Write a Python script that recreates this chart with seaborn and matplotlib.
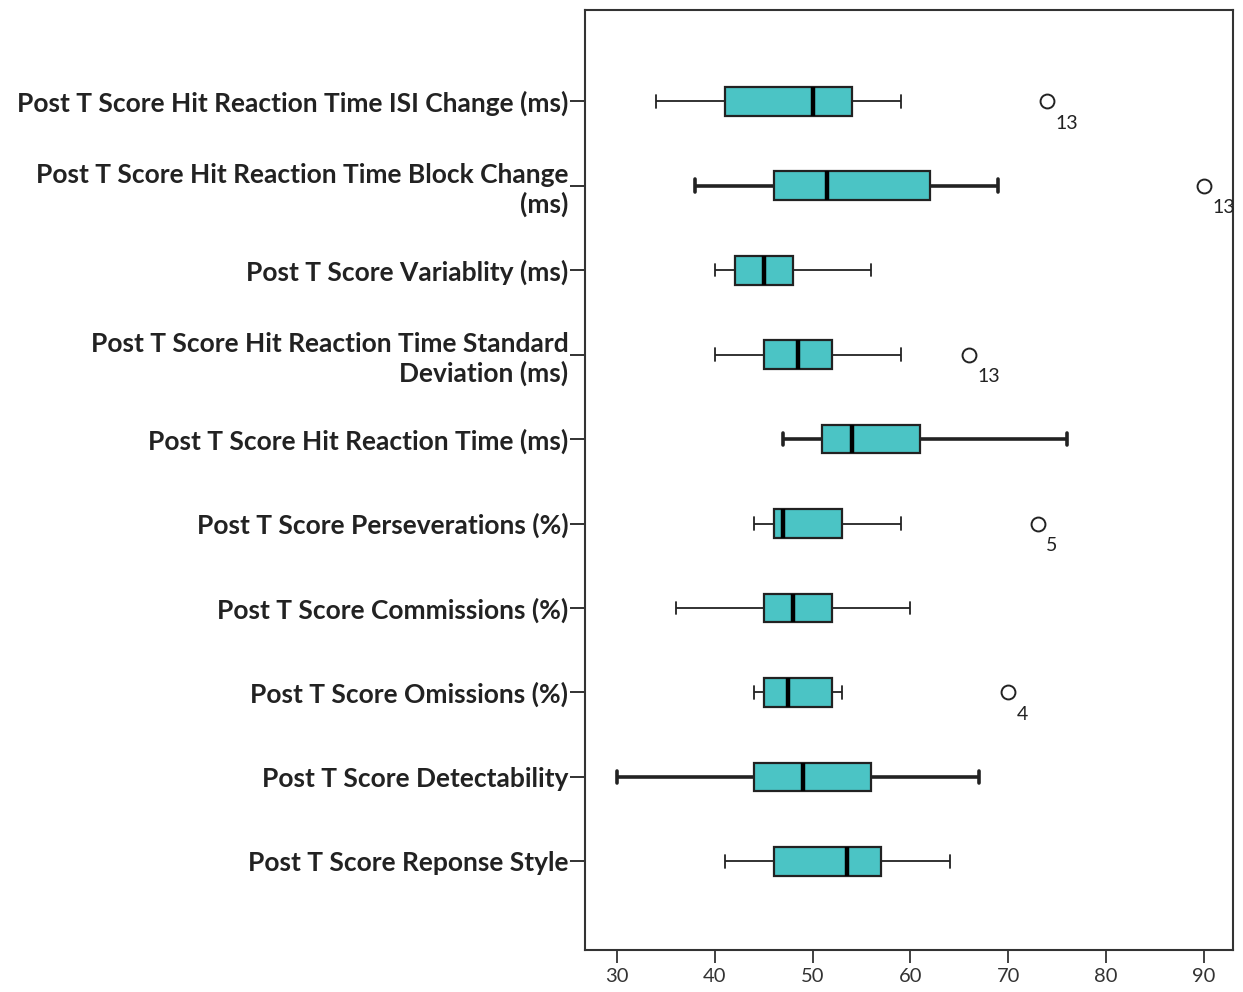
import pandas as pd
import seaborn as sns
import matplotlib.pyplot as plt

# five-number summaries (whisker low, Q1, median, Q3, whisker high)
measures = [
    'Post T Score Hit Reaction Time ISI Change (ms)',
    'Post T Score Hit Reaction Time Block Change\n(ms)',
    'Post T Score Variablity (ms)',
    'Post T Score Hit Reaction Time Standard\nDeviation (ms)',
    'Post T Score Hit Reaction Time (ms)',
    'Post T Score Perseverations (%)',
    'Post T Score Commissions (%)',
    'Post T Score Omissions (%)',
    'Post T Score Detectability',
    'Post T Score Reponse Style',
]
whisker_low = [34, 38, 40, 40, 47, 44, 36, 44, 30, 41]
q1 = [41, 46, 42, 45, 51, 46, 45, 45, 44, 46]
median = [50, 51.5, 45, 48.5, 54, 47, 48, 47.5, 49, 53.5]
q3 = [54, 62, 48, 52, 61, 53, 52, 52, 56, 57]
whisker_high = [59, 69, 56, 59, 76, 59, 60, 53, 67, 64]
# rows drawn with heavier lines in the original
heavy = [False, True, False, False, True, False, False, False, True, False]

# outliers (value, case number)
outlier_measure = [measures[0], measures[1], measures[3], measures[5], measures[7]]
outlier_value = [74, 90, 66, 73, 70]
outlier_case = ['13', '13', '13', '5', '4']

rows = []
for i, m in enumerate(measures):
    for v in (whisker_low[i], q1[i], median[i], q3[i], whisker_high[i]):
        rows.append({'measure': m, 'value': v, 'heavy': heavy[i]})
df = pd.DataFrame(rows)
df_out = pd.DataFrame({'measure': outlier_measure, 'value': outlier_value, 'case': outlier_case})

sns.set_theme(style='ticks')
plt.rcParams['font.family'] = ['Lato', 'DejaVu Sans']

fig = plt.figure(figsize=(12.43, 9.92), dpi=100)
ax = fig.add_axes([0.4706, 0.0423, 0.5214, 0.9476])

box_color = '#4BC4C5'
line_color = '#222222'

for is_heavy, lw in ((False, 1.3), (True, 2.6)):
    sns.boxplot(
        data=df[df['heavy'] == is_heavy], x='value', y='measure', order=measures,
        orient='h', whis=(0, 100), width=0.34, color=box_color, saturation=1,
        linecolor=line_color, linewidth=lw, showfliers=False, capwidths=0.15,
        boxprops={'linewidth': 1.6},
        medianprops={'linewidth': 3.2, 'color': 'black'},
        ax=ax,
    )

sns.stripplot(
    data=df_out, x='value', y='measure', order=measures, orient='h', jitter=False,
    color='white', edgecolor='#222222', linewidth=1.4, size=10, ax=ax,
)

for m, v, c in zip(outlier_measure, outlier_value, outlier_case):
    ax.annotate(c, (v, measures.index(m)), xytext=(6, -16), textcoords='offset points',
                ha='left', va='center', fontsize=14, color='#222222')

ax.set_xlim(26.7, 93.0)
ax.set_ylim(10.05, -1.08)
ax.set_xticks([30, 40, 50, 60, 70, 80, 90])
ax.set_xlabel('')
ax.set_ylabel('')
for s in ax.spines.values():
    s.set_visible(True)
    s.set_linewidth(1.5)
    s.set_color('#333333')
ax.tick_params(axis='y', length=11, width=1.3, pad=1, labelsize=19, colors='#222222')
ax.tick_params(axis='x', length=9, width=1.3, pad=4, labelsize=14.5, colors='#333333')
for t in ax.get_yticklabels():
    t.set_fontweight('bold')
    t.set_ha('right')
    t.set_multialignment('right')
    t.set_linespacing(1.2)

plt.savefig('out.png', dpi=100)
